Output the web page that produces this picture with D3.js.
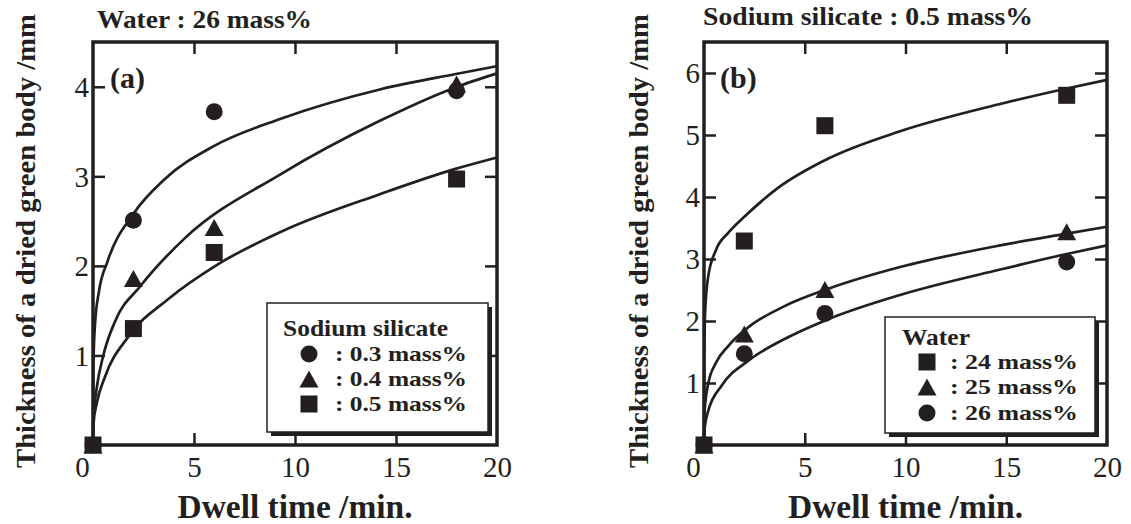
<!DOCTYPE html>
<html>
<head>
<meta charset="utf-8">
<script src="https://cdn.jsdelivr.net/npm/d3@7"></script>
<style>
  html, body { margin: 0; padding: 0; background: #fff; }
  svg { display: block; }
</style>
</head>
<body>
<svg id="chart" width="1131" height="524" font-family="Liberation Serif"></svg>
<script>
// ---- Panel (a): water 26 mass%, varying sodium silicate ----
const dwellTimeA = [0, 2, 6, 18];
const silicate03 = [0, 2.51, 3.72, 3.955];
const silicate04 = [0, 1.86, 2.43, 4.03];
const silicate05 = [0, 1.30, 2.15, 2.97];
const legendLabelsA = [": 0.3 mass%", ": 0.4 mass%", ": 0.5 mass%"];

// fitted curves, [time, thickness]
const fitSilicate03 = [[0,0],[0.02,0.9],[0.1,1.35],[0.3,1.72],[0.72,2.05],[2,2.58],[3.56,2.97],[6,3.34],[9.26,3.64],[14.2,3.97],[17.9,4.14],[20,4.23]];
const fitSilicate04 = [[0,0],[0.03,0.32],[0.18,0.63],[0.51,1.0],[1.09,1.38],[2.33,1.77],[4.55,2.31],[9.26,3.02],[14.2,3.62],[17.9,3.99],[20,4.15]];
const fitSilicate05 = [[0,0],[0.03,0.25],[0.18,0.46],[0.59,0.76],[1.75,1.21],[3.73,1.63],[6.2,2.02],[9.5,2.40],[14.2,2.80],[17.9,3.08],[20,3.21]];

// ---- Panel (b): sodium silicate 0.5 mass%, varying water ----
const dwellTimeB = [0, 2, 6, 18];
const water24 = [0, 3.29, 5.15, 5.64];
const water25 = [0, 1.79, 2.51, 3.44];
const water26 = [0, 1.47, 2.12, 2.95];
const legendLabelsB = [": 24 mass%", ": 25 mass%", ": 26 mass%"];

const fitWater24 = [[0,0],[0.01,1.2],[0.05,2.1],[0.2,2.7],[0.6,3.15],[1.2,3.42],[2,3.68],[3.69,4.15],[6.17,4.62],[9.73,5.06],[14.7,5.5],[18,5.75],[20,5.89]];
const fitWater25 = [[0,0],[0.02,0.51],[0.21,0.99],[0.6,1.33],[1.21,1.6],[2.2,1.9],[4,2.24],[6.17,2.52],[9.73,2.87],[14.7,3.22],[18,3.41],[20,3.52]];
const fitWater26 = [[0,0],[0.02,0.22],[0.21,0.55],[0.88,0.96],[2.2,1.36],[4,1.71],[6.17,2.03],[9.73,2.42],[14.7,2.83],[18,3.08],[20,3.22]];

const xTickLabels = [0, 5, 10, 15, 20];
const xInnerTicks = [5, 10, 15];
const yTicksA = [1, 2, 3, 4];
const yTicksB = [1, 2, 3, 4, 5, 6];

const INK = "#231f20";
const FONT = "Liberation Serif";
const svg = d3.select("#chart");

// marker shapes, centred on their bounding box
function marker(g, shape, cx, cy) {
  if (shape === "circle") {
    g.append("circle").attr("cx", cx).attr("cy", cy).attr("r", 8.5).attr("fill", INK);
  } else if (shape === "square") {
    g.append("rect").attr("x", cx - 8.5).attr("y", cy - 8.5).attr("width", 17).attr("height", 17).attr("fill", INK);
  } else {
    const w = 19, h = 17;
    g.append("path")
      .attr("d", `M${cx},${cy - h / 2}L${cx + w / 2},${cy + h / 2}L${cx - w / 2},${cy + h / 2}Z`)
      .attr("fill", INK);
  }
}

function boldText(sel, size, len) {
  sel.attr("font-family", FONT).attr("font-weight", "bold").attr("font-size", size).attr("fill", INK);
  if (len) sel.attr("textLength", len).attr("lengthAdjust", "spacingAndGlyphs");
  return sel;
}

function drawPanel(p) {
  const g = svg.append("g").attr("transform", `translate(${p.left},${p.top})`);
  const x = d3.scaleLinear().domain([0, 20]).range([0, p.width]);
  const y = d3.scaleLinear().domain([0, p.yMax]).range([p.height, 0]);

  const styleTicks = sel => {
    sel.select(".domain").remove();
    sel.selectAll("line").attr("stroke", INK).attr("stroke-width", 2.5);
  };

  // inward ticks on all four sides
  g.append("g").call(d3.axisLeft(y).tickValues(p.yTicks).tickSize(-12).tickFormat("")).call(styleTicks);
  g.append("g").attr("transform", `translate(${p.width},0)`)
    .call(d3.axisRight(y).tickValues(p.yTicks).tickSize(-12).tickFormat("")).call(styleTicks);
  g.append("g").call(d3.axisTop(x).tickValues(xInnerTicks).tickSize(-12).tickFormat("")).call(styleTicks);
  g.append("g").attr("transform", `translate(0,${p.height})`)
    .call(d3.axisBottom(x).tickValues(xInnerTicks).tickSize(-12).tickFormat("")).call(styleTicks);

  // tick labels
  const yLab = g.append("g").call(d3.axisLeft(y).tickValues(p.yTicks).tickSize(0).tickPadding(4).tickFormat(d3.format("d")));
  yLab.select(".domain").remove();
  yLab.attr("font-family", FONT).attr("font-size", 29);
  yLab.selectAll("text").attr("fill", INK).attr("dy", "0.34em");

  const xLab = g.append("g").attr("transform", `translate(0,${p.height})`)
    .call(d3.axisBottom(x).tickValues(xTickLabels).tickSize(0).tickPadding(11).tickFormat(d3.format("d")));
  xLab.select(".domain").remove();
  xLab.attr("font-family", FONT).attr("font-size", 29);
  xLab.selectAll("text").attr("fill", INK).attr("dx", d => d === 0 ? -11 : 0);

  // fitted curves
  const line = d3.line().x(d => x(d[0])).y(d => y(d[1])).curve(d3.curveMonotoneX);
  p.fits.forEach(f => {
    g.append("path").attr("d", line(f)).attr("fill", "none").attr("stroke", INK)
      .attr("stroke-width", 2.7).attr("stroke-linejoin", "round");
  });

  // frame
  g.append("rect").attr("width", p.width).attr("height", p.height)
    .attr("fill", "none").attr("stroke", INK).attr("stroke-width", 3.5);

  // measured points
  const pts = g.append("g");
  p.series.forEach(s => {
    p.times.forEach((t, i) => marker(pts, s.shape, x(t), y(s.values[i])));
  });

  // panel tag
  boldText(g.append("text").attr("x", p.tagX).attr("y", p.tagY).text(p.tag), 30);

  // legend with drop shadow
  const L = p.legend;
  const lg = svg.append("g");
  lg.append("rect").attr("x", L.x + 4).attr("y", L.y + 4).attr("width", L.w).attr("height", L.h).attr("fill", INK);
  lg.append("rect").attr("x", L.x).attr("y", L.y).attr("width", L.w).attr("height", L.h)
    .attr("fill", "#fff").attr("stroke", INK).attr("stroke-width", 1.5);
  boldText(lg.append("text").attr("x", L.titleX).attr("y", L.titleY).text(L.title), 24, L.titleLen);
  L.rows.forEach((r, i) => {
    marker(lg, r.shape, L.markerX, L.rowY[i] - 7);
    boldText(lg.append("text").attr("x", L.textX).attr("y", L.rowY[i]).text(r.label), 22, L.textLen);
  });

  // headline above the frame
  boldText(svg.append("text").attr("x", p.headX).attr("y", p.headY).text(p.head), p.headSize, p.headLen);

  // axis titles
  boldText(svg.append("text").attr("x", p.left + p.width / 2).attr("y", 518).attr("text-anchor", "middle")
    .text("Dwell time /min."), 33, 235);
  boldText(svg.append("text").attr("transform", `translate(${p.yTitleX},241) rotate(-90)`).attr("text-anchor", "middle")
    .text("Thickness of a dried green body /mm"), 28, 454);
}

drawPanel({
  left: 93, top: 42, width: 404, height: 403, yMax: 4.5, yTicks: yTicksA,
  times: dwellTimeA,
  series: [
    { shape: "circle", values: silicate03 },
    { shape: "triangle", values: silicate04 },
    { shape: "square", values: silicate05 }
  ],
  fits: [fitSilicate03, fitSilicate04, fitSilicate05],
  tag: "(a)", tagX: 17, tagY: 46,
  head: "Water : 26 mass%", headX: 97, headY: 28, headSize: 25, headLen: 215,
  yTitleX: 35,
  legend: {
    x: 267, y: 303, w: 221, h: 129,
    title: "Sodium silicate", titleX: 283, titleY: 336, titleLen: 165,
    markerX: 309, textX: 335, textLen: 132, rowY: [361, 386, 411],
    rows: [
      { shape: "circle", label: legendLabelsA[0] },
      { shape: "triangle", label: legendLabelsA[1] },
      { shape: "square", label: legendLabelsA[2] }
    ]
  }
});

drawPanel({
  left: 704, top: 42, width: 403, height: 403, yMax: 6.5, yTicks: yTicksB,
  times: dwellTimeB,
  series: [
    { shape: "circle", values: water26 },
    { shape: "triangle", values: water25 },
    { shape: "square", values: water24 }
  ],
  fits: [fitWater24, fitWater25, fitWater26],
  tag: "(b)", tagX: 16, tagY: 46,
  head: "Sodium silicate : 0.5 mass%", headX: 703, headY: 25, headSize: 25, headLen: 330,
  yTitleX: 648,
  legend: {
    x: 885, y: 317, w: 210, h: 116,
    title: "Water", titleX: 902, titleY: 345, titleLen: 68,
    markerX: 927, textX: 950, textLen: 128, rowY: [369, 394, 420],
    rows: [
      { shape: "square", label: legendLabelsB[0] },
      { shape: "triangle", label: legendLabelsB[1] },
      { shape: "circle", label: legendLabelsB[2] }
    ]
  }
});
</script>
</body>
</html>
